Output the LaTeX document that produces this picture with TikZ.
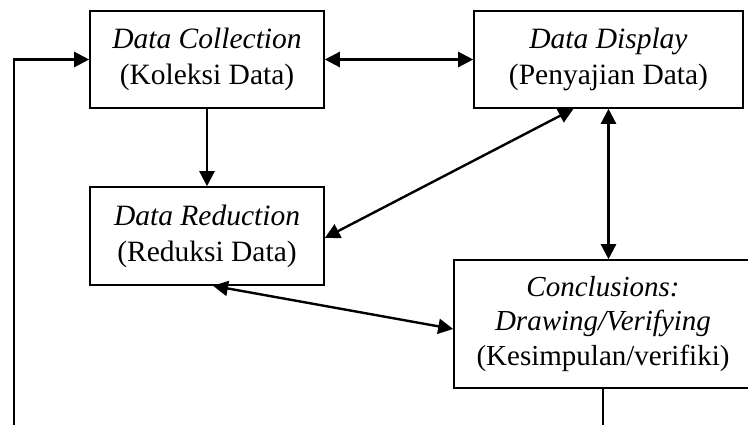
\documentclass[tikz,border=0pt]{standalone}
\usepackage{fontspec}
\setmainfont{Liberation Serif}
\usetikzlibrary{arrows.meta,calc}
\tikzset{
  boxnode/.style={draw, line width=1.6pt, align=center, inner sep=0pt,
    font=\fontsize{29.5}{36}\selectfont},
  conn/.style={line width=2.4pt, {Triangle[length=15pt,width=15pt]}-{Triangle[length=15pt,width=15pt]}},
  oneway/.style={line width=2.4pt, -{Triangle[length=15pt,width=15pt]}}
}
\begin{document}
\begin{tikzpicture}[x=1pt,y=1pt]
\useasboundingbox (0,0) rectangle (748,-424);
\node[boxnode, minimum width=234pt, minimum height=97pt] (dc) at (207,-59.5)
  {\textit{Data Collection}\\(Koleksi Data)};
\node[boxnode, minimum width=269pt, minimum height=97pt] (dd) at (608.5,-59.5)
  {\textit{Data Display}\\(Penyajian Data)};
\node[boxnode, minimum width=234pt, minimum height=98pt] (dr) at (207,-236)
  {\textit{Data Reduction}\\(Reduksi Data)};
\node[boxnode, minimum width=298pt, minimum height=128pt, font=\fontsize{29}{34.5}\selectfont] (cc) at (603,-324)
  {\textit{Conclusions:}\\\textit{Drawing/Verifying}\\(Kesimpulan/verifiki)};
\coordinate (lb) at (14,-440);
\draw[oneway] (dc.south) -- (dr.north);
\draw[conn] (dc.east) -- (dd.west);
\draw[conn] ([xshift=-35pt]dd.south) -- ([yshift=-2pt]dr.east);
\draw[conn] (dd.south) -- (dd.south |- cc.north);
\draw[conn] ([xshift=6pt]dr.south) -- ([yshift=-5pt]cc.west);
\draw[oneway] (cc.south) |- (lb) |- (dc.west);
\end{tikzpicture}
\end{document}
